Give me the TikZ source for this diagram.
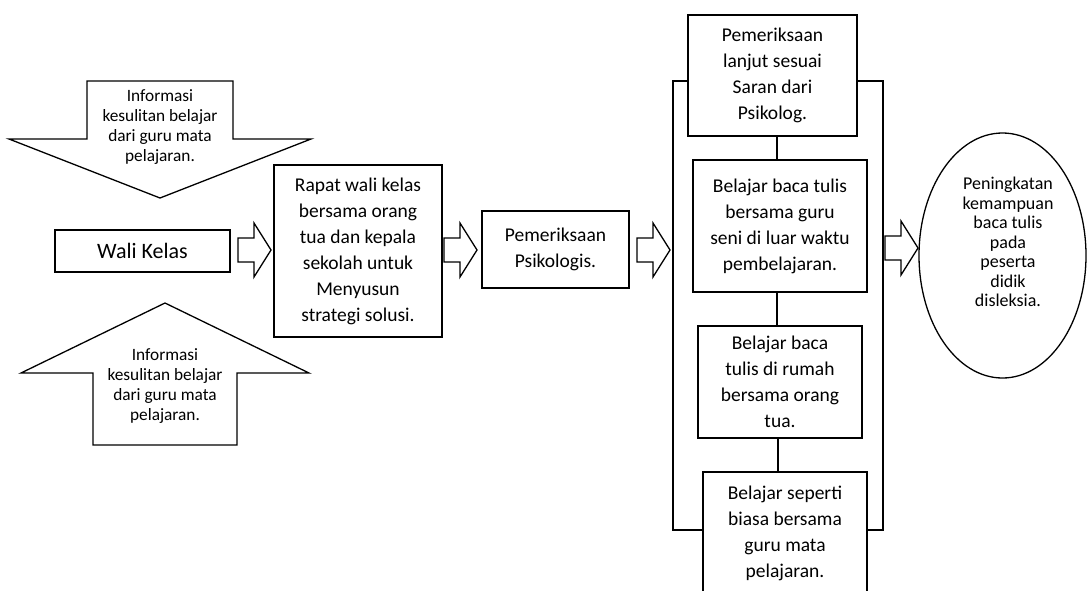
\documentclass[tikz,border=0pt]{standalone}
\usepackage{fontspec}
\setmainfont{Carlito}
\usetikzlibrary{shapes.geometric}
\begin{document}
\begin{tikzpicture}[x=1pt,y=-1pt, line width=1.3pt, line join=miter,
  box/.style={draw, fill=white, inner sep=0pt, align=center, font=\fontsize{19.5}{26}\selectfont},
  txt/.style={align=center, inner sep=0pt},
  small/.style={font=\fontsize{17.3}{19.7}\selectfont},
  rarr/.pic={\draw[fill=white] (0,-12) -- (16,-12) -- (16,-27) -- (33,0) -- (16,27) -- (16,12) -- (0,12) -- cycle;}]
\useasboundingbox (0,0) rectangle (1088,590);
\clip (0,0) rectangle (1088,590);
% big down arrow
\draw (87,81) -- (233,81) -- (233,139) -- (311,139) -- (160,198) -- (9,139) -- (87,139) -- cycle;
\node[txt, small] (infoA) at (160,127) {Informasi\\kesulitan belajar\\dari guru mata\\pelajaran.};
% big up arrow
\draw (165,303) -- (309,373) -- (237,373) -- (237,445) -- (93,445) -- (93,373) -- (21,373) -- cycle;
\node[txt, small] (infoB) at (165,386) {Informasi\\kesulitan belajar\\dari guru mata\\pelajaran.};
% boxes
\node[box, minimum width=175pt, minimum height=42pt, font=\fontsize{22}{26}\selectfont] (wali) at (142.5,251) {Wali Kelas};
\node[box, minimum width=168pt, minimum height=172pt] (rapat) at (358,251) {Rapat wali kelas\\bersama orang\\tua dan kepala\\sekolah untuk\\Menyusun\\strategi solusi.};
\node[box, minimum width=147pt, minimum height=77pt] (psi) at (555.5,249.5) {Pemeriksaan\\Psikologis.};
% outer frame
\draw (673,81) rectangle (883,530);
\node[box, minimum width=169pt, minimum height=121pt] (lanjut) at (772.5,75.5) {Pemeriksaan\\lanjut sesuai\\Saran dari\\Psikolog.};
\node[box, minimum width=174pt, minimum height=132pt] (b2) at (780,226) {Belajar baca tulis\\bersama guru\\seni di luar waktu\\pembelajaran.};
\node[box, minimum width=164pt, minimum height=112pt] (b3) at (780,382) {Belajar baca\\tulis di rumah\\bersama orang\\tua.};
\node[box, minimum width=164pt, minimum height=122pt] (b4) at (785,533) {Belajar seperti\\biasa bersama\\guru mata\\pelajaran.};
\draw (lanjut.south -| 777,0) -- (b2.north -| 777,0);
\draw (b2.south -| 777,0) -- (b3.north -| 777,0);
\draw (b3.south -| 778,0) -- (b4.north -| 778,0);
% result ellipse
\node[draw, ellipse, inner sep=0pt, minimum width=167pt, minimum height=245pt] (hasil) at (1002.5,255.5) {};
\node[txt, font=\fontsize{18}{19.5}\selectfont] (hasilt) at (1008,242) {Peningkatan\\kemampuan\\baca tulis\\pada\\peserta\\didik\\disleksia.};
% block arrows
\pic at (238,250) {rarr};
\pic at (444,250) {rarr};
\pic at (637,250) {rarr};
\pic at (885,248) {rarr};
\end{tikzpicture}
\end{document}
